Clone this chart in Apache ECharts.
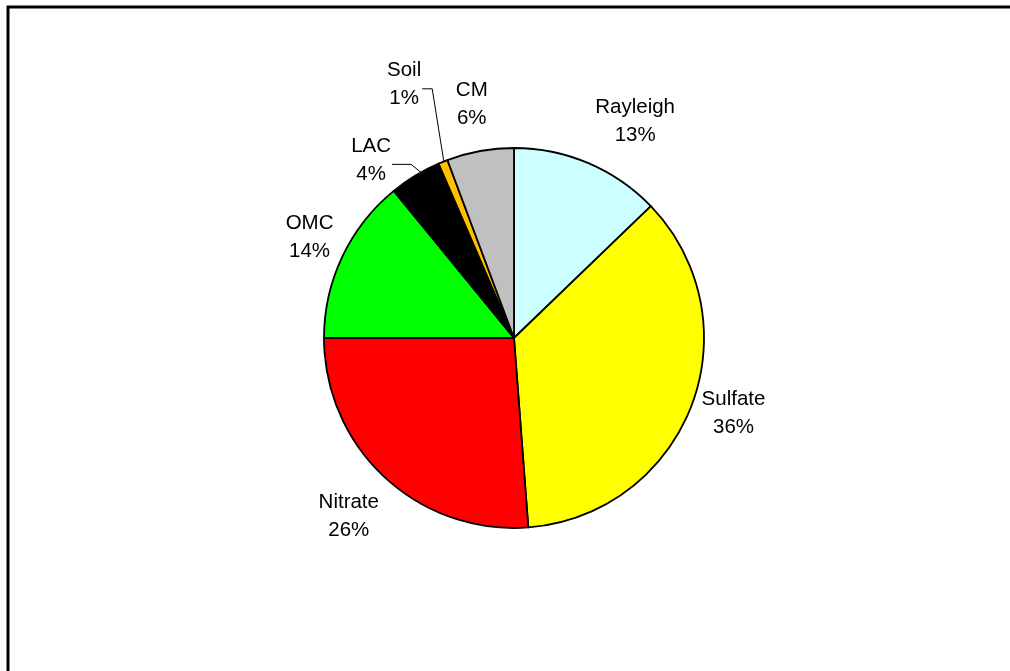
<!DOCTYPE html>
<html><head><meta charset="utf-8">
<script src="https://cdn.jsdelivr.net/npm/echarts@6/dist/echarts.min.js"></script>
<style>html,body{margin:0;padding:0;background:#fff}#c{width:1010px;height:671px}</style>
</head><body><div id="c"></div>
<script>
const categories = ['Rayleigh','Sulfate','Nitrate','OMC','LAC','Soil','CM'];
const values = [12.8, 36.0, 26.2, 14.1, 4.4, 0.8, 5.7];
const colors = ['#CCFFFF','#FFFF00','#FF0000','#00FF00','#000000','#FFC000','#C0C0C0'];
// label placement style (polar offsets from each slice's mid-angle)
const labelAngleShift = [6.2, -2, 0, 0.9, -7.5, -1.5, 0];
const labelDistance = [248, 232, 243, 228, 228, 276, 237];
const leaderCorner = [0, 0, 0, 0, 20, 11, 0];
const leaderAnchorShift = [0, 0, 0, 0, 2.5, 0, 0];

const CX = 514, CY = 338, R = 190;
const total = values.reduce((a, b) => a + b, 0);
const mids = []; let acc = 0;
values.forEach(v => { mids.push(acc + v / 2); acc += v; });
function midDeg(i) { return mids[i] / total * 360; }
function polar(deg, r) { const a = deg * Math.PI / 180; return [CX + r * Math.sin(a), CY - r * Math.cos(a)]; }

const chart = echarts.init(document.getElementById('c'), null, {renderer: 'canvas'});
chart.setOption({
  animation: false,
  backgroundColor: '#fff',
  graphic: [{
    type: 'rect', shape: {x: 8, y: 7, width: 1100, height: 800},
    style: {fill: 'none', stroke: '#000', lineWidth: 3}, silent: true
  }],
  series: [{
    type: 'pie',
    center: [CX, CY],
    radius: R,
    startAngle: 90,
    clockwise: true,
    avoidLabelOverlap: false,
    emphasis: {disabled: true},
    itemStyle: {borderColor: '#000', borderWidth: 1.8},
    label: {
      show: true, position: 'outside', color: '#000',
      fontFamily: 'Liberation Sans, Arial, sans-serif', fontSize: 20.5, lineHeight: 28,
      formatter: p => p.name + '\n' + Math.round(p.value / total * 100) + '%'
    },
    labelLine: {show: false, lineStyle: {color: '#000', width: 1}},
    labelLayout: function (params) {
      const i = params.dataIndex;
      const pt = polar(midDeg(i) + labelAngleShift[i], labelDistance[i]);
      const res = {x: pt[0], y: pt[1], align: 'center', verticalAlign: 'middle'};
      if (leaderCorner[i]) {
        const right = pt[0] + params.labelRect.width / 2;
        const e = polar(midDeg(i) + leaderAnchorShift[i], R - 4);
        res.labelLinePoints = [e, [right + leaderCorner[i], pt[1] + 4], [right + 1, pt[1] + 4]];
      }
      return res;
    },
    data: categories.map((c, i) => ({
      name: c, value: values[i],
      itemStyle: {color: colors[i]},
      labelLine: leaderCorner[i] ? {show: true, length: 10, length2: 10} : {show: false}
    }))
  }]
});
</script>
</body></html>
